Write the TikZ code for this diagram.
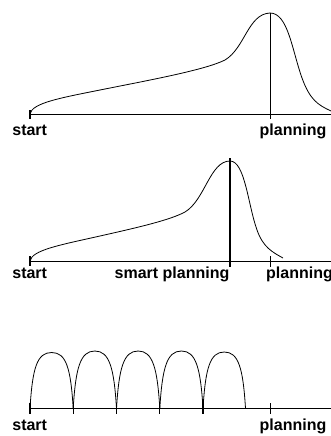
\documentclass[tikz,border=0pt]{standalone}
\usepackage{fontspec}
\setmainfont{Liberation Sans}
\begin{document}
\begin{tikzpicture}[x=1pt,y=-1pt,
  axis/.style={line width=1pt},
  mark line/.style={line width=1.2pt},
  curve/.style={line width=0.8pt},
  lbl/.style={anchor=base,inner sep=0pt,font=\fontsize{16}{18}\selectfont\bfseries}]
\useasboundingbox (0,0) rectangle (331,436);
% ---------- panel 1 ----------
\coordinate (a1s) at (30,114);
\coordinate (a1e) at (331,114);
\draw[axis] (a1s) -- (a1e);
\draw[mark line] (30,110) -- (30,119);
\draw[mark line] (270.5,13) -- (270.5,119);
\draw[curve] (30,114) .. controls (32,103) and (60,98) .. (100,90)
  .. controls (150,80) and (205,70) .. (225,60)
  .. controls (245,48) and (248,14) .. (270,13)
  .. controls (288,13) and (292,50) .. (302,78)
  .. controls (310,100) and (318,105) .. (331,111);
\node[lbl] (start1) at (29.7,135.5) {start};
\node[lbl] (plan1) at (293,135.5) {planning};
% ---------- panel 2 ----------
\coordinate (a2s) at (30,261);
\coordinate (a2e) at (331,261);
\draw[axis] (a2s) -- (a2e);
\draw[mark line] (30,256) -- (30,266);
\draw[mark line] (230,158) -- (230,267);
\draw[mark line] (270.5,256) -- (270.5,267);
\draw[curve] (30,261) .. controls (32,250) and (60,245) .. (100,236)
  .. controls (140,227) and (170,220) .. (185,212)
  .. controls (205,200) and (210,161) .. (230,161)
  .. controls (245,161) and (248,205) .. (257,230)
  .. controls (263,247) and (272,252) .. (283,258);
\node[lbl] (start2) at (29.7,278.3) {start};
\node[lbl] (smart) at (172,278.3) {smart planning};
\node[lbl] (plan2) at (299.5,278.3) {planning};
% ---------- panel 3 ----------
\coordinate (a3s) at (30,408.3);
\coordinate (a3e) at (331,408.3);
\draw[axis] (a3s) -- (a3e);
\foreach \x in {30,73.2,116.5,159.8,203} \draw[mark line] (\x,403) -- (\x,414);
\draw[mark line] (270.5,403) -- (270.5,414);
\foreach \a/\b/\h in {30/73.2/352.5,73.2/116.5/351,116.5/159.8/351,159.8/203/351,203/245.5/352} {
  \draw[curve] (\a,408.3) .. controls (\a+2.5,368) and (\a+7,\h) .. ({(\a+\b)/2},\h)
    .. controls (\b-7,\h) and (\b-2.5,368) .. (\b,408.3);
}
\node[lbl] (start3) at (29.7,430.3) {start};
\node[lbl] (plan3) at (293,430.3) {planning};
\end{tikzpicture}
\end{document}
